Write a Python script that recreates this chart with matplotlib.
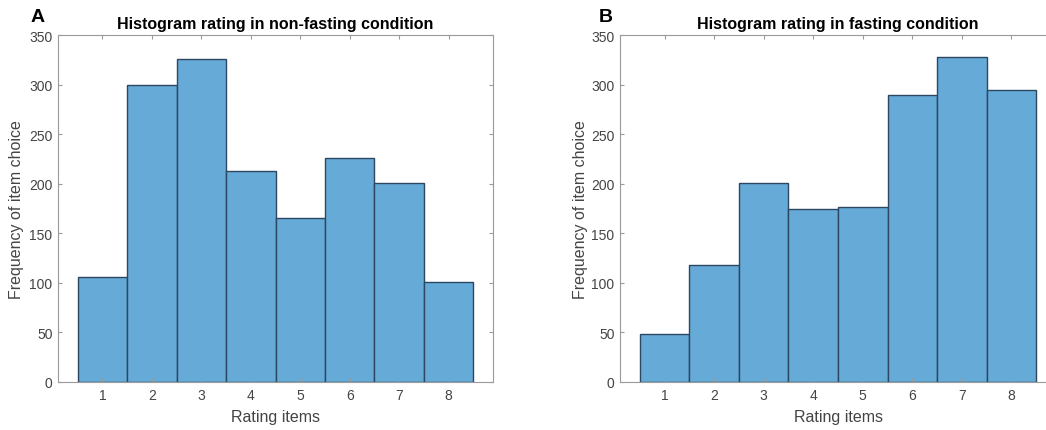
import matplotlib

matplotlib.use("Agg")
import matplotlib.pyplot as plt

plt.rcParams["font.family"] = ["Liberation Sans", "DejaVu Sans"]

ratings = [1, 2, 3, 4, 5, 6, 7, 8]
non_fasting = [106, 300, 326, 213, 165, 226, 201, 101]
fasting = [48, 118, 201, 175, 177, 289, 328, 295]
titles = ["Histogram rating in non-fasting condition", "Histogram rating in fasting condition"]
letters = ["A", "B"]

FACE = "#66aad7"
EDGE = "#2b4761"
AXIS = "#9a9a9a"
TEXT = "#444444"

W, H = 1046, 431
fig = plt.figure(figsize=(W / 100, H / 100), dpi=100)

# pixel boxes: (left, top, right, bottom)
boxes = [(58, 36, 493, 383), (620, 36, 1056, 383)]
letter_pos = [(38, 18), (606, 18)]

for box, counts, title, letter, lp in zip(boxes, [non_fasting, fasting], titles, letters, letter_pos):
    l, t, r, b = box
    ax = fig.add_axes([l / W, 1 - b / H, (r - l) / W, (b - t) / H])
    ax.bar(ratings, counts, width=1.0, color=FACE, edgecolor=EDGE, linewidth=1.0)
    ax.set_xlim(0.1, 8.9)
    ax.set_ylim(0, 350)
    ax.set_xticks(ratings)
    ax.set_yticks(range(0, 351, 50))
    ax.tick_params(direction="in", top=True, right=True, length=3, width=0.8,
                   color=AXIS, labelcolor=TEXT, labelsize=10, pad=4)
    for s in ax.spines.values():
        s.set_color(AXIS)
        s.set_linewidth(0.8)
    ax.set_title(title, fontsize=11.5, fontweight="bold", pad=5)
    ax.set_xlabel("Rating items", fontsize=11.5, color=TEXT)
    ax.set_ylabel("Frequency of item choice", fontsize=11.5, color=TEXT)
    ax.xaxis.set_label_coords(0.5, -(418 - b) / (b - t), transform=ax.transAxes)
    ax.yaxis.set_label_coords(-(l - (17 if l < 500 else 580)) / (r - l), 0.5, transform=ax.transAxes)
    ax.xaxis.label.set_va("center")
    ax.yaxis.label.set_va("center")
    fig.text(lp[0] / W, 1 - lp[1] / H, letter, fontsize=14, fontweight="bold",
             ha="center", va="center")

fig.savefig("out.png", dpi=100)
